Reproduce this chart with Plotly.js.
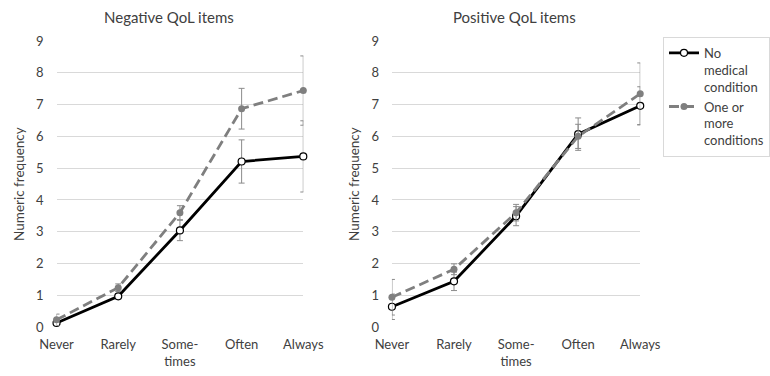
<!DOCTYPE html>
<html>
<head>
<meta charset="utf-8">
<script src="https://cdn.plot.ly/plotly-3.0.1.min.js"></script>
<style>html,body{margin:0;padding:0;background:#fff;}#chart{width:770px;height:376px;}</style>
</head>
<body>
<div id="chart"></div>
<script>
var categories = ['Never', 'Rarely', 'Some-<br>times', 'Often', 'Always'];
var seriesNames = ['No<br>medical<br>condition', 'One or<br>more<br>conditions'];
var panelTitles = ['Negative QoL items', 'Positive QoL items'];
var yTickVals = [0, 1, 2, 3, 4, 5, 6, 7, 8, 9];

var negNoCond    = [0.13, 0.97, 3.04, 5.21, 5.37];
var negNoCondErr = [0.08, 0.08, 0.32, 0.68, 1.12];
var negCond      = [0.23, 1.24, 3.60, 6.87, 7.44];
var negCondErr   = [0.18, 0.12, 0.22, 0.64, 1.09];
var posNoCond    = [0.64, 1.44, 3.49, 6.07, 6.96];
var posNoCondErr = [0.40, 0.29, 0.30, 0.51, 0.60];
var posCond      = [0.94, 1.82, 3.60, 6.00, 7.34];
var posCondErr   = [0.56, 0.17, 0.26, 0.38, 0.97];

var FONT = 'Lato, "Open Sans", sans-serif';
var black = '#000000', grey = '#7f7f7f', errCol = '#8c8c8c';

function noCondTrace(y, err, xa, ya, show) {
  return {
    type: 'scatter', mode: 'lines+markers', x: categories, y: y, xaxis: xa, yaxis: ya,
    name: seriesNames[0], showlegend: show, cliponaxis: false,
    line: {color: black, width: 2.8},
    marker: {symbol: 'circle', size: 7, color: '#ffffff', line: {color: black, width: 1.2}},
    error_y: {type: 'data', array: err, visible: true, color: errCol, thickness: 1, width: 3}
  };
}
function condTrace(y, err, xa, ya, show) {
  return {
    type: 'scatter', mode: 'lines+markers', x: categories, y: y, xaxis: xa, yaxis: ya,
    name: seriesNames[1], showlegend: show, cliponaxis: false,
    line: {color: grey, width: 2.8, dash: '10px,5px'},
    marker: {symbol: 'circle', size: 7, color: grey},
    error_y: {type: 'data', array: err, visible: true, color: errCol, thickness: 1, width: 3}
  };
}

var data = [
  noCondTrace(negNoCond, negNoCondErr, 'x', 'y', false),
  condTrace(negCond, negCondErr, 'x', 'y', false),
  noCondTrace(posNoCond, posNoCondErr, 'x2', 'y2', true),
  condTrace(posCond, posCondErr, 'x2', 'y2', true)
];

function xAxis(domain, anchor) {
  return {
    domain: domain, anchor: anchor, type: 'category', range: [0, 4],
    showgrid: false, zeroline: false, showline: false, ticks: '',
    ticklabelstandoff: 8, tickfont: {family: FONT, size: 13, color: '#404040'}
  };
}
function yAxis(domain, anchor) {
  return {
    domain: domain, anchor: anchor, range: [0, 9], tickvals: yTickVals,
    showgrid: true, gridcolor: '#d9d9d9', gridwidth: 1, zeroline: false, showline: false,
    ticks: '', ticklabelstandoff: 12, tickfont: {family: FONT, size: 13, color: '#404040'},
    title: {text: 'Numeric frequency', font: {family: FONT, size: 13.5, color: '#404040'}, standoff: 8}
  };
}

var layout = {
  width: 770, height: 376,
  margin: {l: 0, r: 0, t: 0, b: 0},
  paper_bgcolor: '#ffffff', plot_bgcolor: '#ffffff',
  showlegend: true,
  xaxis: xAxis([0.074, 0.397], 'y'),
  yaxis: yAxis([0.13, 0.891], 'x'),
  xaxis2: xAxis([0.513, 0.838], 'y2'),
  yaxis2: yAxis([0.13, 0.891], 'x2'),
  legend: {
    x: 0.868, y: 0.902, xanchor: 'left', yanchor: 'top',
    bordercolor: '#d9d9d9', borderwidth: 1, bgcolor: '#ffffff',
    font: {family: FONT, size: 13, color: '#404040'},
    valign: 'top', itemwidth: 30, tracegroupgap: 4
  },
  annotations: [
    {text: panelTitles[0], xref: 'paper', yref: 'paper', x: 170 / 770, y: 1 - 17 / 376,
     xanchor: 'center', yanchor: 'middle', showarrow: false,
     font: {family: FONT, size: 15, color: '#404040'}},
    {text: panelTitles[1], xref: 'paper', yref: 'paper', x: 519 / 770, y: 1 - 17 / 376,
     xanchor: 'center', yanchor: 'middle', showarrow: false,
     font: {family: FONT, size: 15, color: '#404040'}}
  ]
};

Plotly.newPlot('chart', data, layout, {displayModeBar: false, staticPlot: true});
</script>
</body>
</html>
